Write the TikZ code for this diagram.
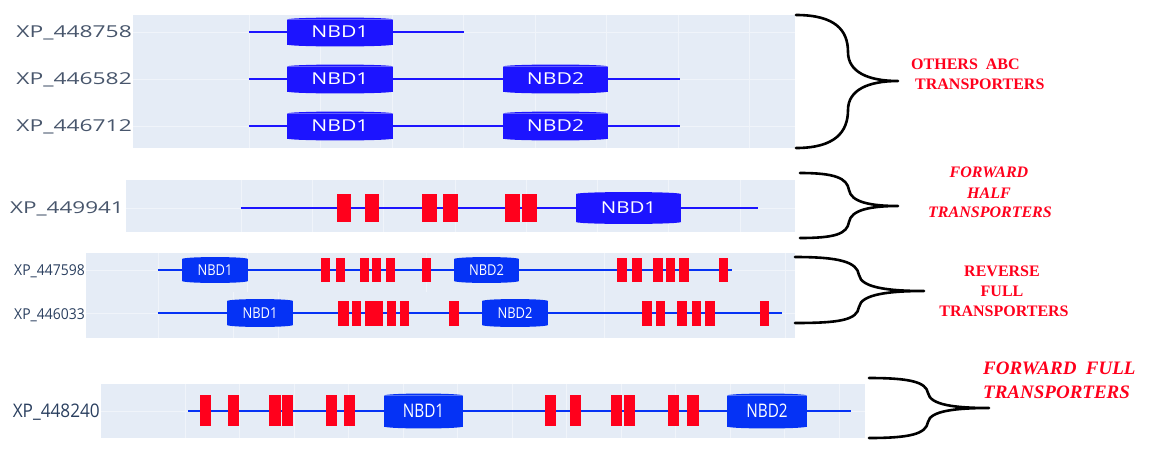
\documentclass[tikz,border=0pt]{standalone}
\usepackage{graphicx}
\usepackage{fontspec}
\setmainfont{Liberation Serif}
\newfontfamily\osans{Open Sans}
\definecolor{bgc}{RGB}{229,236,246}
\definecolor{gridc}{RGB}{240,244,250}
\definecolor{lblA}{RGB}{72,86,108}
\definecolor{lblB}{RGB}{42,63,95}
\definecolor{bluA}{RGB}{28,20,255}
\definecolor{bluB}{RGB}{5,50,245}
\definecolor{rd}{RGB}{255,0,28}
\tikzset{
  panelbg/.style={fill=bgc},
  grid/.style={draw=gridc, line width=0.8pt},
  backbone/.style={line width=2pt},
  nbdbox/.style={inner sep=0pt, outer sep=0pt, text=white, font=\osans},
  seqlbl/.style={anchor=base east, inner sep=0pt, font=\osans},
  brace/.style={draw=black, line width=2.6pt, line join=round, line cap=round},
  famtxt/.style={text=rd, font=\bfseries\fontsize{16}{16}\selectfont, inner sep=0pt},
  famit/.style={text=rd, font=\bfseries\itshape\fontsize{16}{16}\selectfont, inner sep=0pt},
  famitbig/.style={text=rd, font=\bfseries\itshape\fontsize{19}{19}\selectfont, inner sep=0pt, anchor=west},
}
% name, x1, x2, y, h, colour, fontsize, xscale, text
\newcommand\nbd[9]{%
  \node[nbdbox, fill=#6, minimum width={(#3-#2)*1pt}, minimum height={#5*1pt}] (#1) at ({(#2+#3)/2},#4)
    {\scalebox{#8}[1]{\fontsize{#7}{#7}\selectfont #9}};
  \fill[#6] (#1.north west) .. controls ([shift={(3pt,2.6pt)}]#1.north west) and ([shift={(-3pt,2.6pt)}]#1.north east) .. (#1.north east) -- cycle;
  \fill[#6] (#1.south west) .. controls ([shift={(3pt,-2.6pt)}]#1.south west) and ([shift={(-3pt,-2.6pt)}]#1.south east) .. (#1.south east) -- cycle;
}
\begin{document}
\begin{tikzpicture}[x=1pt,y=-1pt]
\useasboundingbox (0,0) rectangle (1156,453);
% ---------------- panel backgrounds
\fill[panelbg] (133,15) rectangle (795,148);
\fill[panelbg] (126,180) rectangle (795,232);
\fill[panelbg] (86,253) rectangle (795,338);
\fill[panelbg] (101,384) rectangle (865,438);
% ---------------- grid lines
\foreach \g in {249,320.5,392,463.5,535,606.5,678,749.5} \draw[grid] (\g,15) -- (\g,148);
\foreach \g in {32,79,126} \draw[grid] (133,\g) -- (795,\g);
\foreach \g in {241,312,383.5,455,526,597,668.5,740} \draw[grid] (\g,180) -- (\g,232);
\draw[grid] (126,208) -- (795,208);
\foreach \g in {158,604,785} \draw[grid] (\g,253) -- (\g,338);
\foreach \g in {247,426} \draw[grid] (\g,253) -- (\g,292);
\foreach \g in {233,278} \draw[grid] (\g,292) -- (\g,338);
\foreach \g in {270,313} \draw[grid] (86,\g) -- (795,\g);
\foreach \g in {185,239.5,294,348.5,403,457.5,512,566.5,621,675.5,730,784.5,839} \draw[grid] (\g,384) -- (\g,438);
\draw[grid] (101,411) -- (865,411);
% ---------------- backbones
\coordinate (a1s) at (249,32); \coordinate (a1e) at (464,32);
\coordinate (a2s) at (249,79); \coordinate (a2e) at (680,79);
\coordinate (a3s) at (249,126); \coordinate (a3e) at (680,126);
\coordinate (b1s) at (241,208); \coordinate (b1e) at (758,208);
\coordinate (c1s) at (158,270); \coordinate (c1e) at (732,270);
\coordinate (c2s) at (158,313); \coordinate (c2e) at (782,313);
\coordinate (d1s) at (188,411); \coordinate (d1e) at (851,411);
\draw[backbone, bluA] (a1s) -- (a1e);
\draw[backbone, bluA] (a2s) -- (a2e);
\draw[backbone, bluA] (a3s) -- (a3e);
\draw[backbone, bluA] (b1s) -- (b1e);
\draw[backbone, bluB] (c1s) -- (c1e);
\draw[backbone, bluB] (c2s) -- (c2e);
\draw[backbone, bluB] (d1s) -- (d1e);
% ---------------- transmembrane segments
\foreach \a/\b in {337/351,365/379,422/437,443/458,505/520,522/537} \fill[rd] (\a,194) rectangle (\b,222);
\foreach \a/\b in {321/330,336/345,360/369,372/381,386/395,422/431,617/627,632/642,653/663,666/675,679/689,719/728} \fill[rd] (\a,258) rectangle (\b,282);
\foreach \a/\b in {338/349,352/361,365/374,374/383,387/396,400/409,449/459,642/652,656/665,677/687,692/701,705/715,760/769} \fill[rd] (\a,301) rectangle (\b,326);
\foreach \a/\b in {200/211,228/239,269/281,282/293,326/337,344/355,545/556,570/581,611/622,624/635,668/679,687/699} \fill[rd] (\a,395) rectangle (\b,426);
% ---------------- NBD domains
\nbd{p1a}{287}{393}{32}{25}{bluA}{16.4}{1.29}{NBD1}
\nbd{p2a}{287}{393}{79}{25}{bluA}{16.4}{1.29}{NBD1}
\nbd{p2b}{503}{608}{79}{25}{bluA}{16.4}{1.29}{NBD2}
\nbd{p3a}{287}{393}{126}{25}{bluA}{16.4}{1.29}{NBD1}
\nbd{p3b}{503}{608}{126}{25}{bluA}{16.4}{1.29}{NBD2}
\nbd{q1a}{576}{681}{208}{28}{bluA}{16.4}{1.25}{NBD1}
\nbd{r1a}{182}{248}{270}{22}{bluB}{15}{0.86}{NBD1}
\nbd{r1b}{454}{519}{270}{22}{bluB}{15}{0.86}{NBD2}
\nbd{r2a}{227}{293}{313}{24}{bluB}{15}{0.86}{NBD1}
\nbd{r2b}{482}{548}{313}{24}{bluB}{15}{0.86}{NBD2}
\nbd{s1a}{384}{463}{411}{31}{bluB}{18.7}{0.82}{NBD1}
\nbd{s1b}{727}{807}{411}{31}{bluB}{18.7}{0.82}{NBD2}
% ---------------- sequence labels
\node[seqlbl, text=lblA] (l1) at (132,37.9) {\scalebox{1.39}[1]{\fontsize{16.4}{16.4}\selectfont XP\_448758}};
\node[seqlbl, text=lblA] (l2) at (132,84.9) {\scalebox{1.39}[1]{\fontsize{16.4}{16.4}\selectfont XP\_446582}};
\node[seqlbl, text=lblA] (l3) at (132,131.9) {\scalebox{1.39}[1]{\fontsize{16.4}{16.4}\selectfont XP\_446712}};
\node[seqlbl, text=lblA] (l4) at (124,213.9) {\scalebox{1.37}[1]{\fontsize{16.4}{16.4}\selectfont XP\_449941}};
\node[seqlbl, text=lblB] (l5) at (85,275.3) {\scalebox{0.93}[1]{\fontsize{15}{15}\selectfont XP\_447598}};
\node[seqlbl, text=lblB] (l6) at (85,319.3) {\scalebox{0.93}[1]{\fontsize{15}{15}\selectfont XP\_446033}};
\node[seqlbl, text=lblB] (l7) at (100,417.7) {\scalebox{0.92}[1]{\fontsize{18.7}{18.7}\selectfont XP\_448240}};
% ---------------- braces
\coordinate (k1t) at (796,15); \coordinate (k1p) at (898,81); \coordinate (k1b) at (796,148);
\draw[brace] (k1t) .. controls (835,15) and (848,30) .. (848,52) .. controls (848,72) and (868,81) .. (k1p)
  .. controls (868,81) and (848,90) .. (848,110) .. controls (848,132) and (835,148) .. (k1b);
\coordinate (k2t) at (800,173); \coordinate (k2p) at (898,206); \coordinate (k2b) at (800,238);
\draw[brace] (k2t) .. controls (835,173) and (847,178) .. (849,190) .. controls (851,202) and (870,206) .. (k2p)
  .. controls (870,206) and (851,210) .. (849,222) .. controls (847,234) and (835,238) .. (k2b);
\coordinate (k3t) at (795,257); \coordinate (k3p) at (924,291); \coordinate (k3b) at (795,323);
\draw[brace] (k3t) .. controls (840,257) and (857,262) .. (859,275) .. controls (861,288) and (890,291) .. (k3p)
  .. controls (890,291) and (861,294) .. (859,307) .. controls (857,320) and (840,323) .. (k3b);
\coordinate (k4t) at (869,378); \coordinate (k4p) at (989,408); \coordinate (k4b) at (869,438);
\draw[brace] (k4t) .. controls (910,378) and (926,382) .. (928,393) .. controls (930,405) and (955,408) .. (k4p)
  .. controls (955,408) and (930,411) .. (928,422) .. controls (926,434) and (910,438) .. (k4b);
% ---------------- family labels
\node[famtxt, anchor=west] (f1a) at (911,64) {OTHERS\ \ ABC};
\node[famtxt, anchor=west] (f1b) at (915,84) {TRANSPORTERS};
\node[famit] (f2a) at (989,172) {FORWARD};
\node[famit] (f2b) at (989,193) {HALF};
\node[famit] (f2c) at (990,212) {TRANSPORTERS};
\node[famtxt] (f3a) at (1002,271) {REVERSE};
\node[famtxt] (f3b) at (1002,291) {FULL};
\node[famtxt] (f3c) at (1004,311) {TRANSPORTERS};
\node[famitbig] (f4a) at (983,368) {FORWARD\ \ FULL};
\node[famitbig] (f4b) at (983,392) {TRANSPORTERS};
\end{tikzpicture}
\end{document}
